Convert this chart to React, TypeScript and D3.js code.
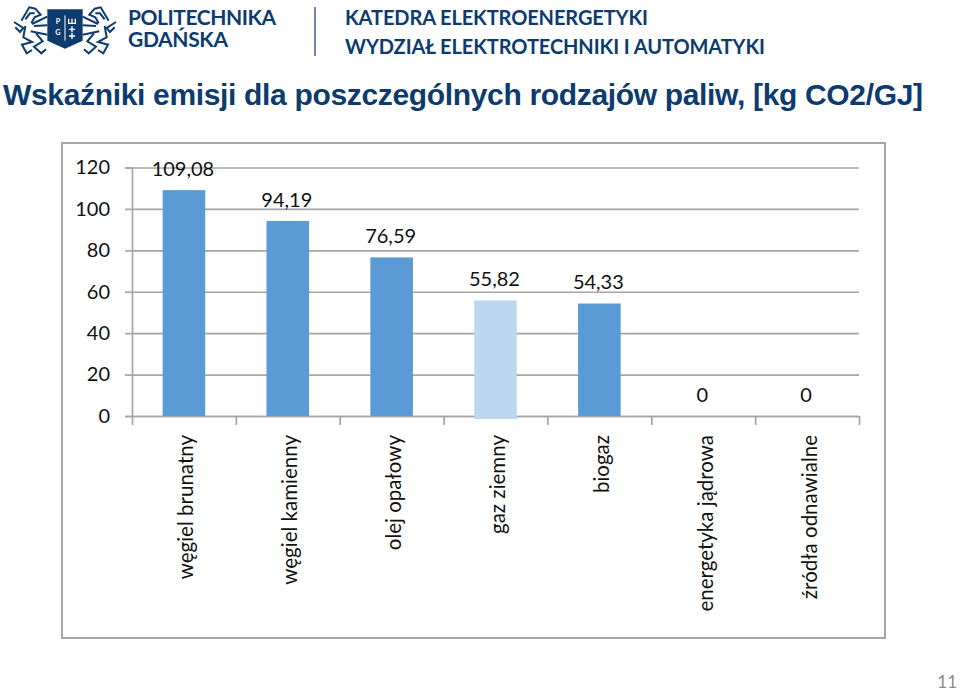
import * as React from 'react';
import * as d3 from 'd3';

const categories = ['węgiel brunatny', 'węgiel kamienny', 'olej opałowy', 'gaz ziemny', 'biogaz', 'energetyka jądrowa', 'źródła odnawialne'];
const values = [109.08, 94.19, 76.59, 55.82, 54.33, 0, 0];
const highlighted = ['gaz ziemny'];
const yTicks = [0, 20, 40, 60, 80, 100, 120];

const navy = '#0d3b6e';
const grey = '#a6a6a6';
const barBlue = '#5b9bd5';
const barLight = '#bdd7ee';
const chartFont = 'Lato, "Open Sans", sans-serif';

// the crest, roughly: one lion, mirrored for the other side (units are 1/3 px)
const lionPaths = [
  'M34 62 L58 22 L76 26 L92 44 L74 52 L64 70',
  'M46 58 L60 40 L74 40',
  'M12 66 L40 84 L30 96 L16 82',
  'M66 72 L112 50',
  'M62 94 L112 104',
  'M46 78 L40 112 L66 126 L36 134 L50 160 L66 150',
  'M78 100 L98 124 L72 140 L94 160 L108 148',
  'M72 78 L112 76'
];
const crossRows = [88, 108];

function Crest() {
  return <g transform="translate(10,0) scale(0.3333)">
    {[0, 1].map((side) => <g key={side} transform={side ? 'translate(330,0) scale(-1,1)' : undefined}
      fill="none" stroke={navy} strokeWidth={6}>
      {lionPaths.map((d) => <path key={d} d={d} />)}
    </g>)}
    <path d="M112 28 L218 28 L218 122 L165 146 L112 122 Z" fill={navy} />
    <line x1={165} x2={165} y1={46} y2={122} stroke="#fff" strokeWidth={3} />
    <text x={144} y={72} fill="#fff" fontSize={22} textAnchor="middle" fontFamily="Lato" fontWeight={700}>P</text>
    <text x={144} y={106} fill="#fff" fontSize={22} textAnchor="middle" fontFamily="Lato" fontWeight={700}>G</text>
    <path d="M176 56 L176 70 L196 70 L196 56 M186 56 L186 70" fill="none" stroke="#fff" strokeWidth={4} />
    {crossRows.map((r) => <path key={r} d={`M177 ${r} L195 ${r} M186 ${r - 9} L186 ${r + 9}`} stroke="#fff" strokeWidth={4} />)}
  </g>;
}

export default function App() {
  const axesRef = React.useRef<SVGGElement>(null);

  const x = d3.scaleBand<string>().domain(categories).range([132, 859]).paddingInner(0.59).paddingOuter(0.295);
  const y = d3.scaleLinear().domain([0, 120]).range([416, 167.5]);

  React.useEffect(() => {
    const g = d3.select(axesRef.current!);
    g.selectAll('*').remove();

    // Y axis with the long grid lines
    const yAxis = g.append('g')
      .attr('transform', 'translate(132,0)')
      .call(d3.axisLeft(y).tickValues(yTicks).tickSize(7).tickPadding(15).tickFormat((n) => `${n}`));
    yAxis.selectAll('.tick').append('line')
      .attr('class', 'grid')
      .attr('x1', 0)
      .attr('x2', 859 - 132);

    // X axis: ticks only, labels are drawn rotated after the bars
    const step = x.step();
    const edges = d3.range(categories.length + 1).map((i) => 132 + i * step);
    const edgeScale = d3.scaleLinear().domain([132, 859]).range([132, 859]);
    g.append('g')
      .attr('transform', 'translate(0,416)')
      .call(d3.axisBottom(edgeScale).tickValues(edges).tickSizeOuter(0).tickSizeInner(9).tickFormat(() => ''));

    g.selectAll('.domain, .tick line').attr('stroke', grey).attr('stroke-width', 1.7);
    g.selectAll('.tick text')
      .attr('fill', '#111')
      .style('font-family', chartFont)
      .style('font-size', '20px');
  }, []);

  return <svg width={960} height={692} style={{position: 'absolute', left: 0, top: 0, background: '#fff'}}>
    <Crest />
    <g fill={navy} fontFamily={chartFont} fontWeight={700}>
      <text x={128} y={25} fontSize={21} textLength={148}>POLITECHNIKA</text>
      <text x={128} y={47} fontSize={21} textLength={100}>GDAŃSKA</text>
      <text x={345} y={25} fontSize={20} textLength={303}>KATEDRA ELEKTROENERGETYKI</text>
      <text x={345} y={54} fontSize={20} textLength={420}>WYDZIAŁ ELEKTROTECHNIKI I AUTOMATYKI</text>
    </g>
    <line x1={315} x2={315} y1={7} y2={56} stroke={navy} strokeWidth={1.2} />
    <text x={3} y={105} fill={navy} fontFamily='"Liberation Sans", sans-serif' fontWeight={700} fontSize={30} textLength={920}>
      Wskaźniki emisji dla poszczególnych rodzajów paliw, [kg CO2/GJ]
    </text>

    <rect x={62} y={143} width={823} height={495} fill="#fff" stroke={grey} strokeWidth={2} />

    <g ref={axesRef} />

    {categories.map((c, i) => <rect key={c}
      x={x(c)!}
      y={y(values[i])}
      width={x.bandwidth()}
      height={y(0) - y(values[i]) + (highlighted.includes(c) ? 3 : 0)}
      fill={highlighted.includes(c) ? barLight : barBlue} />)}

    <g fontFamily={chartFont} fontSize={20} fill="#111" textAnchor="middle">
      {categories.map((c, i) => <text key={c} x={x(c)! + x.bandwidth() / 2 - 1} y={y(values[i]) - 14}>
        {d3.format('.2f')(values[i]).replace('.', ',').replace(/^0,00$/, '0')}
      </text>)}
    </g>

    <g fontFamily={chartFont} fontSize={20.5} fill="#111" textAnchor="end">
      {categories.map((c) => <text key={c}
        transform={`translate(${x(c)! + x.bandwidth() / 2 + 9.5},435) rotate(-90)`}>{c}</text>)}
    </g>

    <text x={957} y={688} textAnchor="end" fontFamily={chartFont} fontSize={17} fill="#8c8c8c">11</text>
  </svg>;
}
